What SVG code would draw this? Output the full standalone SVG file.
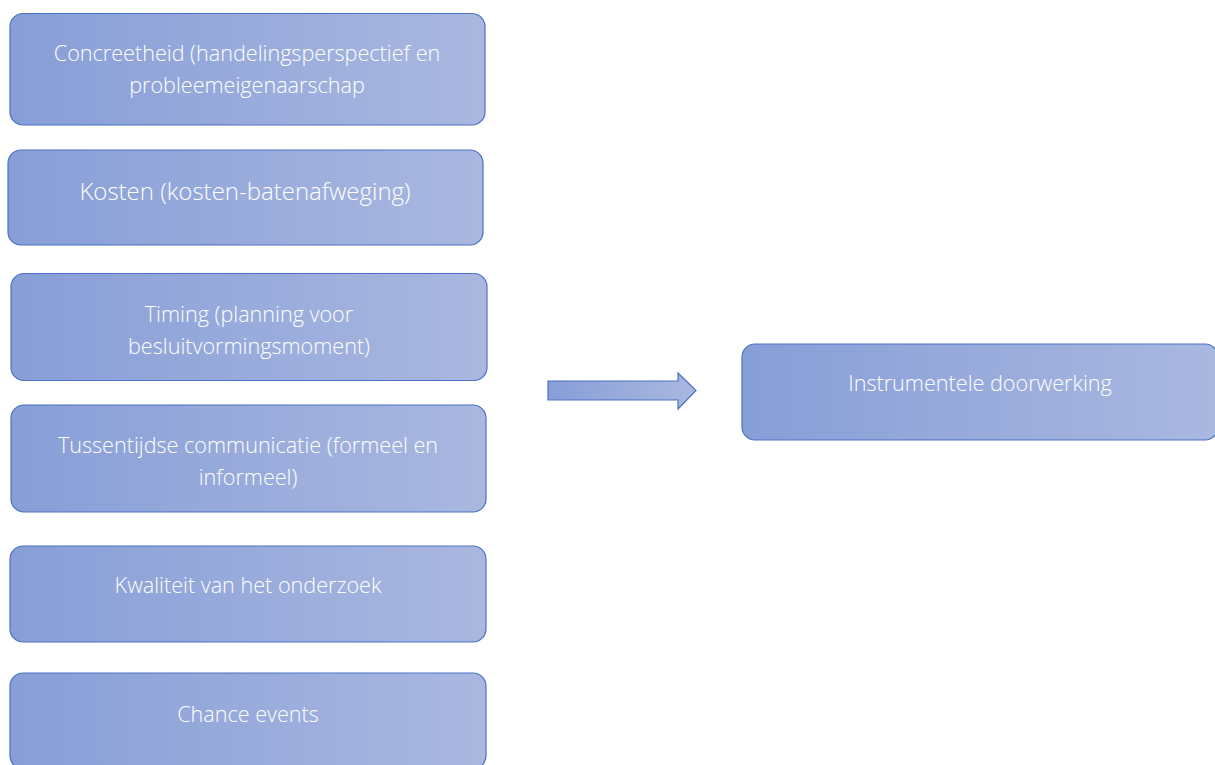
<svg xmlns="http://www.w3.org/2000/svg" width="1215" height="765" viewBox="0 0 1215 765">
<defs>
<linearGradient id="g" x1="0" y1="0" x2="1" y2="0">
<stop offset="0" stop-color="#879ED7"/>
<stop offset="1" stop-color="#AAB8E0"/>
</linearGradient>
<style>
.box{fill:url(#g);stroke:#4A72C4;stroke-width:1.2}
.t{font-family:"Open Sans",Lato,"Liberation Sans",sans-serif;font-weight:300;fill:#FFFFFF;font-size:21.6px;text-anchor:middle}
.big{font-size:24px}
</style>
</defs>
<rect width="1215" height="765" fill="#FFFFFF"/>
<g id="connectors">
<path class="box" d="M548,381 H678 V373 L696,390.5 L678,409 V400 H548 Z"/>
</g>
<g id="n1">
<rect class="box" x="10" y="13.5" width="475" height="111.5" rx="13"/>
<text class="t" x="247" y="61">Concreetheid (handelingsperspectief en</text>
<text class="t" x="247" y="93">probleemeigenaarschap</text>
</g>
<g id="n2">
<rect class="box" x="8" y="150" width="475" height="95" rx="13"/>
<text class="t big" x="245" y="200">Kosten (kosten-batenafweging)</text>
</g>
<g id="n3">
<rect class="box" x="11" y="273.5" width="476" height="107" rx="13"/>
<text class="t" x="249" y="322">Timing (planning voor</text>
<text class="t" x="249" y="354">besluitvormingsmoment)</text>
</g>
<g id="n4">
<rect class="box" x="11" y="405" width="475" height="107" rx="13"/>
<text class="t" x="248" y="453">Tussentijdse communicatie (formeel en</text>
<text class="t" x="248" y="485">informeel)</text>
</g>
<g id="n5">
<rect class="box" x="10" y="546" width="476" height="96" rx="13"/>
<text class="t" x="248" y="593">Kwaliteit van het onderzoek</text>
</g>
<g id="n6">
<rect class="box" x="10" y="673" width="476" height="96" rx="13"/>
<text class="t" x="248" y="722">Chance events</text>
</g>
<g id="n7">
<rect class="box" x="742" y="344" width="476" height="96" rx="13"/>
<text class="t" x="980" y="391">Instrumentele doorwerking</text>
</g>
</svg>
